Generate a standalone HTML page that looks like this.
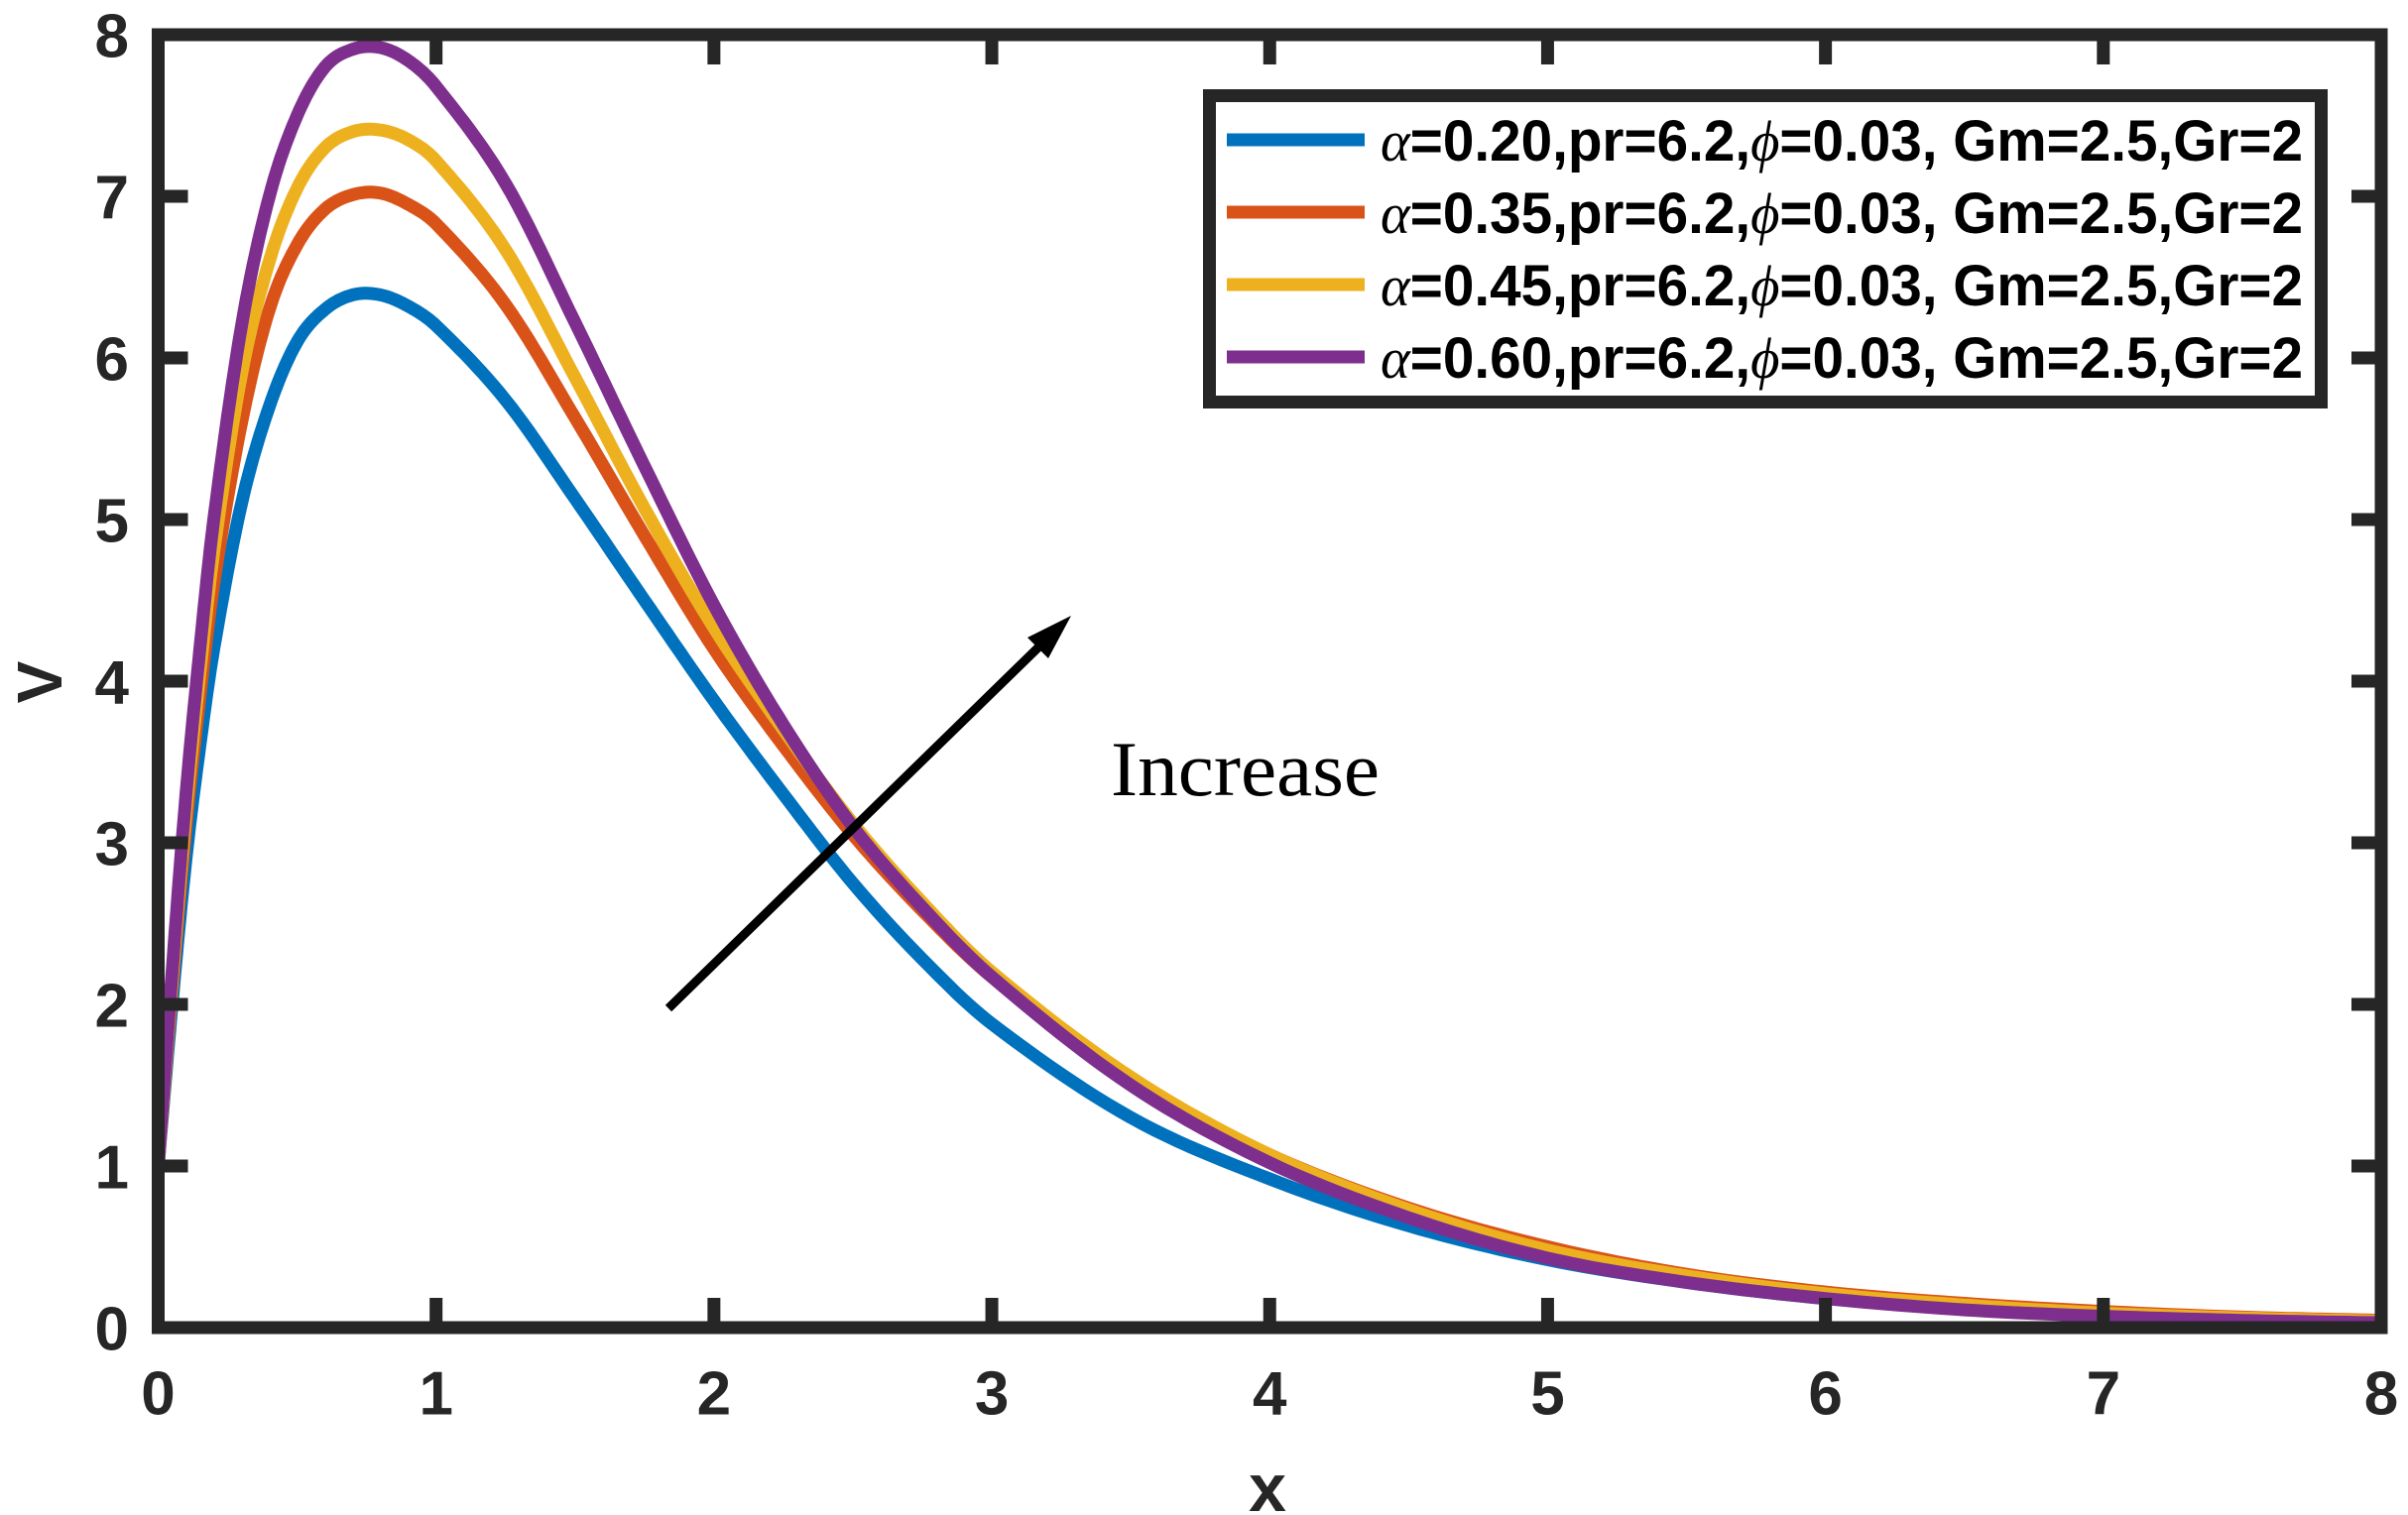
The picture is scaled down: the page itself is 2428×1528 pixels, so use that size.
<!DOCTYPE html>
<html><head><meta charset="utf-8"><style>
html,body{margin:0;padding:0;background:#fff;}
svg{display:block;}
</style></head><body>
<svg id="chart" width="2428" height="1528" viewBox="0 0 2428 1528" xmlns="http://www.w3.org/2000/svg">
<rect width="2428" height="1528" fill="#fff"/>
<g id="series"></g>
<g id="axes"></g>
<g>
<line x1="674" y1="1017" x2="1050" y2="650" stroke="#000" stroke-width="9"/>
<polygon points="1080,621 1036,643 1057,664" fill="#000"/>
</g>
<text x="1120" y="802" font-family="Liberation Serif, serif" font-size="78" textLength="271" lengthAdjust="spacingAndGlyphs" fill="#000">Increase</text>
<g id="legend"></g>
<text x="1278" y="1501" text-anchor="middle" dominant-baseline="central" font-family="Liberation Sans, sans-serif" font-weight="bold" font-size="68" fill="#262626">x</text>
<text x="40" y="688" text-anchor="middle" dominant-baseline="central" transform="rotate(-90 40 688)" font-family="Liberation Sans, sans-serif" font-weight="bold" font-size="64" fill="#262626">V</text>
</svg>
<script>
const xs      = [0,0.05,0.1,0.15,0.2,0.3,0.4,0.5,0.6,0.7,0.8,0.9,1.0,1.25,1.5,1.75,2,2.25,2.5,2.75,3,3.5,4,4.5,5,5.5,6,6.5,7,7.5,8];
const vBlue   = [1,2.0,2.9,3.6,4.2,5.1,5.7,6.1,6.3,6.39,6.39,6.32,6.2,5.74,5.13,4.5,3.88,3.3,2.75,2.28,1.88,1.3,0.92,0.63,0.42,0.28,0.18,0.12,0.08,0.05,0.035];
const vRed    = [1,2.1,3.1,3.9,4.6,5.6,6.3,6.7,6.92,7.01,7.02,6.95,6.83,6.33,5.63,4.9,4.2,3.6,3.05,2.58,2.17,1.53,1.07,0.74,0.5,0.33,0.22,0.15,0.1,0.065,0.045];
const vYellow = [1,2.15,3.2,4.05,4.8,5.9,6.6,7.05,7.3,7.4,7.41,7.35,7.22,6.67,5.88,5.07,4.33,3.7,3.12,2.63,2.2,1.55,1.07,0.73,0.48,0.32,0.21,0.14,0.09,0.06,0.04];
const vPurple = [1,2.2,3.3,4.2,5.0,6.2,7.0,7.5,7.8,7.91,7.92,7.84,7.68,7.08,6.22,5.33,4.47,3.73,3.1,2.6,2.17,1.5,1.02,0.68,0.43,0.28,0.18,0.11,0.07,0.045,0.03];
const seriesNames = ["alpha-0.20","alpha-0.35","alpha-0.45","alpha-0.60"];
const seriesColors = ["#0072BD","#D95319","#EDB120","#7E2F8E"];
const legendLabels = ["0.20","0.35","0.45","0.60"];
const xTicks = [0,1,2,3,4,5,6,7,8];
const yTicks = [0,1,2,3,4,5,6,7,8];

const NS="http://www.w3.org/2000/svg";
const X0=159.5, X1=2401, Y0=1339, Y1=35, XMAX=8, YMAX=8;
function sx(v){return X0+(X1-X0)*v/XMAX;}
function sy(v){return Y0-(Y0-Y1)*v/YMAX;}
function mk(tag,attrs,parent){const e=document.createElementNS(NS,tag);for(const k in attrs)e.setAttribute(k,attrs[k]);parent.appendChild(e);return e;}

function hermitePath(X,Y){
  const n=X.length, m=[];
  for(let i=0;i<n;i++){
    if(i===0) m.push((Y[1]-Y[0])/(X[1]-X[0]));
    else if(i===n-1) m.push((Y[n-1]-Y[n-2])/(X[n-1]-X[n-2]));
    else m.push((Y[i+1]-Y[i-1])/(X[i+1]-X[i-1]));
  }
  let d="M"+sx(X[0]).toFixed(1)+","+sy(Y[0]).toFixed(1);
  for(let i=0;i<n-1;i++){
    const h=X[i+1]-X[i];
    for(let k=1;k<=12;k++){
      const t=k/12,t2=t*t,t3=t2*t;
      const y=(2*t3-3*t2+1)*Y[i]+(t3-2*t2+t)*h*m[i]+(-2*t3+3*t2)*Y[i+1]+(t3-t2)*h*m[i+1];
      d+=" L"+sx(X[i]+t*h).toFixed(1)+","+sy(y).toFixed(1);
    }
  }
  return d;
}
const allSeries=[vBlue,vRed,vYellow,vPurple];
const sg=document.getElementById("series");
allSeries.forEach((vals,i)=>{
  const p=mk("path",{d:hermitePath(xs,vals),fill:"none",stroke:seriesColors[i],"stroke-width":13,"stroke-linejoin":"round"},sg);
  
  
});

const ax=document.getElementById("axes");
const frame=mk("rect",{x:X0,y:Y1,width:X1-X0,height:Y0-Y1,fill:"none",stroke:"#262626","stroke-width":13},ax);


const TL=30;
xTicks.forEach(t=>{
  const x=sx(t);
  if(t>0&&t<XMAX){
    const a=mk("line",{x1:x,y1:Y0,x2:x,y2:Y0-TL,stroke:"#262626","stroke-width":13},ax);
    
    
    const b=mk("line",{x1:x,y1:Y1,x2:x,y2:Y1+TL,stroke:"#262626","stroke-width":13},ax);
    
    
  }
  const l=mk("text",{x:x,y:1406,"text-anchor":"middle","dominant-baseline":"central","font-family":"Liberation Sans, sans-serif","font-weight":"bold","font-size":62,fill:"#262626"},ax);
  l.textContent=String(t);
  
  
});
yTicks.forEach(t=>{
  const y=sy(t);
  if(t>0&&t<YMAX){
    const a=mk("line",{x1:X0,y1:y,x2:X0+TL,y2:y,stroke:"#262626","stroke-width":13},ax);
    
    
    const b=mk("line",{x1:X1,y1:y,x2:X1-TL,y2:y,stroke:"#262626","stroke-width":13},ax);
    
    
  }
  const l=mk("text",{x:130,y:y+2,"text-anchor":"end","dominant-baseline":"central","font-family":"Liberation Sans, sans-serif","font-weight":"bold","font-size":62,fill:"#262626"},ax);
  l.textContent=String(t);
  
  
});

const lg=document.getElementById("legend");
const box=mk("rect",{x:1219.5,y:96.5,width:1121,height:309,fill:"#fff",stroke:"#262626","stroke-width":13},lg);


legendLabels.forEach((lab,i)=>{
  const y=141+73*i;
  const ln=mk("line",{x1:1237,y1:y,x2:1376,y2:y,stroke:seriesColors[i],"stroke-width":13},lg);
  
  
  const t=mk("text",{x:1392,y:y+21,"font-family":"Liberation Sans, sans-serif","font-weight":"bold","font-size":58,fill:"#000",textLength:930,lengthAdjust:"spacingAndGlyphs"},lg);
  t.innerHTML='<tspan font-family="Liberation Serif, serif" font-style="italic" font-weight="normal">α</tspan>='+lab+',pr=6.2,<tspan font-family="Liberation Serif, serif" font-style="italic" font-weight="normal">ϕ</tspan>=0.03, Gm=2.5,Gr=2';
  
  
});
</script>
</body></html>
